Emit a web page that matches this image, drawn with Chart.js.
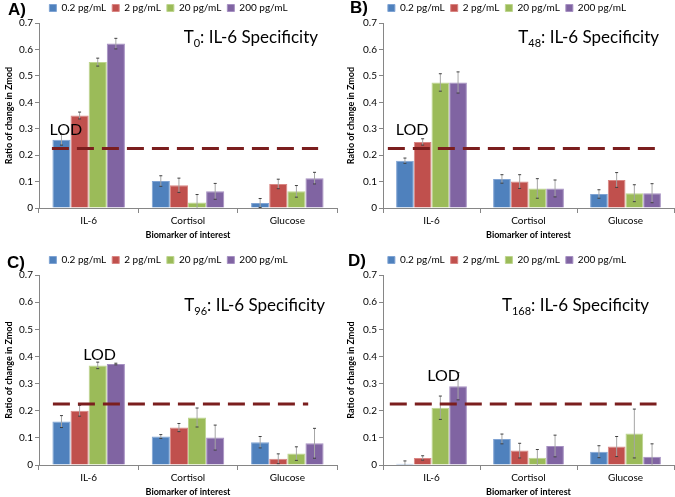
<!DOCTYPE html>
<html>
<head>
<meta charset="utf-8">
<script src="https://cdn.jsdelivr.net/npm/chart.js@4.4.1/dist/chart.umd.min.js"></script>
<style>
  body { margin: 0; background: #fff; }
  #wrap { position: relative; width: 675px; height: 497px; overflow: hidden; }
  .panel { position: absolute; }
</style>
</head>
<body>
<div id="wrap">
  <div class="panel" style="left:0;top:0;width:340px;height:248px"><canvas id="chartA"></canvas></div>
  <div class="panel" style="left:340px;top:0;width:335px;height:248px"><canvas id="chartB"></canvas></div>
  <div class="panel" style="left:0;top:248px;width:340px;height:249px"><canvas id="chartC"></canvas></div>
  <div class="panel" style="left:340px;top:248px;width:335px;height:249px"><canvas id="chartD"></canvas></div>
</div>
<script>
const biomarkers = ["IL-6", "Cortisol", "Glucose"];
const concentrations = ["0.2 pg/mL", "2 pg/mL", "20 pg/mL", "200 pg/mL"];
const seriesColours = ["#4F81BD", "#C0504D", "#9BBB59", "#8064A2"];
const seriesEdges = ["#7FA3D3", "#D98683", "#BDD58E", "#A690C2"];
const lodLevel = 0.225;

// one row per concentration, one value per biomarker
const t0Means = [
  [0.258, 0.102, 0.019],
  [0.350, 0.086, 0.091],
  [0.552, 0.021, 0.063],
  [0.622, 0.063, 0.113],
];
const t0Errors = [
  [0.020, 0.020, 0.017],
  [0.013, 0.027, 0.018],
  [0.015, 0.030, 0.022],
  [0.020, 0.030, 0.022],
];

const t48Means = [
  [0.179, 0.110, 0.053],
  [0.250, 0.100, 0.106],
  [0.475, 0.074, 0.056],
  [0.475, 0.074, 0.056],
];
const t48Errors = [
  [0.010, 0.016, 0.016],
  [0.012, 0.026, 0.028],
  [0.033, 0.037, 0.032],
  [0.040, 0.032, 0.036],
];

const t96Means = [
  [0.160, 0.105, 0.084],
  [0.200, 0.138, 0.023],
  [0.367, 0.175, 0.042],
  [0.372, 0.101, 0.080],
];
const t96Errors = [
  [0.022, 0.007, 0.021],
  [0.020, 0.015, 0.018],
  [0.012, 0.035, 0.025],
  [0.003, 0.046, 0.055],
];

const t168Means = [
  [0.005, 0.096, 0.049],
  [0.026, 0.053, 0.068],
  [0.211, 0.027, 0.116],
  [0.290, 0.070, 0.030],
];
const t168Errors = [
  [0.010, 0.018, 0.022],
  [0.008, 0.027, 0.037],
  [0.043, 0.030, 0.090],
  [0.050, 0.040, 0.048],
];

const FONT = "Lato, 'Open Sans', sans-serif";

// vertical error bars on every bar
const errorBars = {
  id: "errorBars",
  afterDatasetsDraw(chart) {
    const { ctx, chartArea } = chart;
    const y = chart.scales.y;
    ctx.save();
    chart.data.datasets.forEach((ds, i) => {
      chart.getDatasetMeta(i).data.forEach((bar, j) => {
        const v = ds.data[j];
        const e = ds.errors[j];
        const top = y.getPixelForValue(v + e);
        const bot = Math.min(y.getPixelForValue(v - e), chartArea.bottom);
        ctx.strokeStyle = "#A6A6A6";
        ctx.lineWidth = 1;
        ctx.beginPath();
        ctx.moveTo(bar.x, top);
        ctx.lineTo(bar.x, bot);
        ctx.stroke();
        ctx.strokeStyle = "#404040";
        ctx.beginPath();
        ctx.moveTo(bar.x - 1.5, top);
        ctx.lineTo(bar.x + 1.5, top);
        if (bot < chartArea.bottom) {
          ctx.moveTo(bar.x - 1.5, bot);
          ctx.lineTo(bar.x + 1.5, bot);
        }
        ctx.stroke();
      });
    });
    ctx.restore();
  },
};

// dashed LOD threshold, LOD label, panel letter and title
const panelText = {
  id: "panelText",
  afterDraw(chart, args, opts) {
    const { ctx, chartArea } = chart;
    const x = chart.scales.x;
    const y = chart.scales.y;
    const step = x.getPixelForValue(1) - x.getPixelForValue(0);
    ctx.save();

    const ly = y.getPixelForValue(lodLevel);
    ctx.strokeStyle = "#7B1E1E";
    ctx.lineWidth = 3;
    ctx.setLineDash([17, 8]);
    ctx.beginPath();
    ctx.moveTo(x.getPixelForValue(0) + opts.lineFrom * step, ly);
    ctx.lineTo(x.getPixelForValue(2) + opts.lineTo * step, ly);
    ctx.stroke();
    ctx.setLineDash([]);

    ctx.fillStyle = "#000";
    ctx.font = "16px " + FONT;
    ctx.textAlign = "center";
    ctx.textBaseline = "middle";
    ctx.fillText("LOD", x.getPixelForValue(0) + opts.lodX * step, y.getPixelForValue(opts.lodY));

    ctx.font = "bold 17px 'Liberation Sans', Arial, sans-serif";
    ctx.textAlign = "left";
    ctx.fillText(opts.letter, opts.letterX, opts.letterY);

    const big = "17px " + FONT;
    const small = "11px " + FONT;
    const rest = ": IL-6 Specificity";
    ctx.font = big;
    const wT = ctx.measureText("T").width;
    const wR = ctx.measureText(rest).width;
    ctx.font = small;
    const wS = ctx.measureText(opts.sub).width;
    let tx = chartArea.right - opts.titleRight - (wT + wS + wR);
    const ty = chartArea.top + opts.titleY;
    ctx.textBaseline = "alphabetic";
    ctx.font = big;
    ctx.fillText("T", tx, ty);
    tx += wT;
    ctx.font = small;
    ctx.fillText(opts.sub, tx, ty + 4);
    tx += wS;
    ctx.font = big;
    ctx.fillText(rest, tx, ty);
    ctx.restore();
  },
};

function makePanel(id, means, errors, cfg) {
  return new Chart(document.getElementById(id), {
    type: "bar",
    data: {
      labels: biomarkers,
      datasets: concentrations.map((label, i) => ({
        label: label,
        data: means[i],
        errors: errors[i],
        backgroundColor: seriesColours[i],
        borderColor: seriesEdges[i],
        borderWidth: 1,
        categoryPercentage: 0.73,
        barPercentage: 1.0,
      })),
    },
    options: {
      responsive: true,
      maintainAspectRatio: false,
      animation: false,
      layout: { padding: { top: cfg.padTop, right: cfg.padRight, left: 0, bottom: 0 } },
      plugins: {
        legend: {
          display: true,
          position: "top",
          labels: {
            boxWidth: 7,
            boxHeight: 7,
            padding: 6,
            color: "#000",
            font: { family: FONT, size: 10 },
          },
        },
        tooltip: { enabled: false },
        panelText: cfg,
      },
      scales: {
        x: {
          grid: { display: true, drawOnChartArea: false, offset: true, tickLength: 5, color: "#868686" },
          border: { color: "#868686" },
          ticks: { color: "#000", padding: 2, font: { family: FONT, size: 10 } },
          title: {
            display: true,
            text: "Biomarker of interest",
            color: "#000",
            font: { family: FONT, size: 9, weight: "bold" },
            padding: { top: 0, bottom: cfg.xTitlePad },
          },
          afterFit: (s) => { s.height = cfg.xHeight; },
        },
        y: {
          min: 0,
          max: 0.7,
          ticks: { stepSize: 0.1, color: "#000", padding: 2, font: { family: FONT, size: 10 } },
          grid: { display: true, drawOnChartArea: false, tickLength: 4, color: "#868686" },
          border: { color: "#868686" },
          title: {
            display: true,
            text: "Ratio of change in Zmod",
            color: "#000",
            font: { family: FONT, size: 9, weight: "bold" },
            padding: { top: cfg.yTitlePad, bottom: 0 },
          },
          afterFit: (s) => { s.width = cfg.yWidth; },
        },
      },
    },
    plugins: [errorBars, panelText],
  });
}

makePanel("chartA", t0Means, t0Errors, {
  letter: "A)", letterX: 8, letterY: 10, sub: "0", titleRight: 19, titleY: 20,
  lodX: -0.23, lodY: 0.294, lineFrom: -0.37, lineTo: 0.31,
  padTop: -3, padRight: 3, yWidth: 39, xHeight: 40, xTitlePad: 8, yTitlePad: 4,
});
makePanel("chartB", t48Means, t48Errors, {
  letter: "B)", letterX: 10, letterY: 8, sub: "48", titleRight: 15, titleY: 20,
  lodX: -0.2, lodY: 0.296, lineFrom: -0.45, lineTo: 0.35,
  padTop: -3, padRight: 1, yWidth: 43, xHeight: 40, xTitlePad: 8, yTitlePad: 6,
});
makePanel("chartC", t96Means, t96Errors, {
  letter: "C)", letterX: 7, letterY: 15, sub: "96", titleRight: 12, titleY: 36,
  lodX: 0.11, lodY: 0.404, lineFrom: -0.36, lineTo: 0.21,
  padTop: 1, padRight: 3, yWidth: 39, xHeight: 32, xTitlePad: 0, yTitlePad: 4,
});
makePanel("chartD", t168Means, t168Errors, {
  letter: "D)", letterX: 8, letterY: 13, sub: "168", titleRight: 25, titleY: 36,
  lodX: 0.125, lodY: 0.327, lineFrom: -0.43, lineTo: 0.32,
  padTop: 1, padRight: 1, yWidth: 43, xHeight: 32, xTitlePad: 0, yTitlePad: 6,
});
</script>
</body>
</html>
